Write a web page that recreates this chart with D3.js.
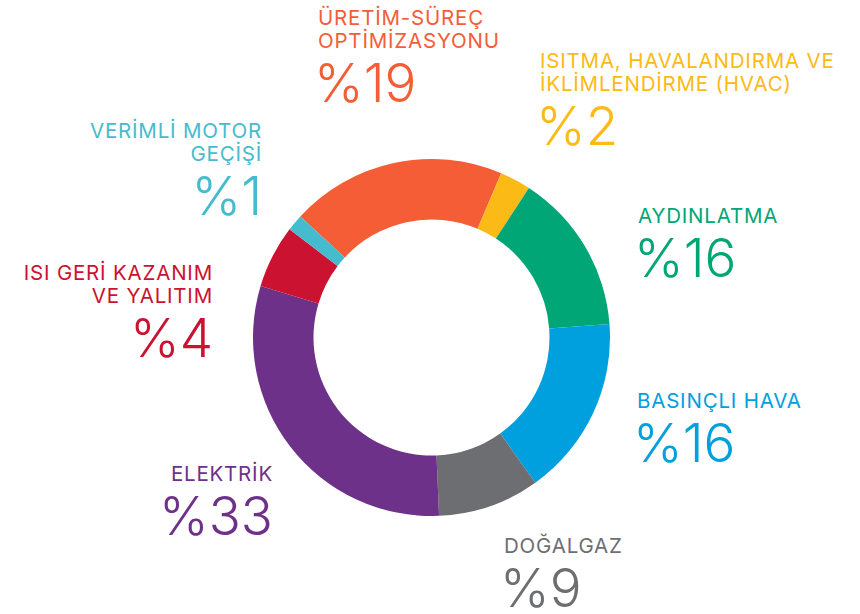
<!DOCTYPE html>
<html>
<head>
<meta charset="utf-8">
<script src="https://cdn.jsdelivr.net/npm/d3@7"></script>
<style>
  body { margin: 0; background: #fff; }
  svg text { font-family: Inter, "Noto Sans", sans-serif; }
</style>
</head>
<body>
<div class="chart"></div>
<script>
// categories clockwise, starting with the orange slice
let categories = ['ÜRETİM-SÜREÇ OPTİMİZASYONU', 'ISITMA, HAVALANDIRMA VE İKLİMLENDİRME (HVAC)', 'AYDINLATMA',
  'BASINÇLI HAVA', 'DOĞALGAZ', 'ELEKTRİK', 'ISI GERİ KAZANIM VE YALITIM', 'VERİMLİ MOTOR GEÇİŞİ']
// printed percentages
let percents = [19, 2, 16, 16, 9, 33, 4, 1]
// arc sizes as drawn in the picture
let shares = [19.5, 2.8, 14.6, 16.3, 9.2, 30.3, 5.7, 1.5]
let labelLines = [
  ['ÜRETİM-SÜREÇ', 'OPTİMİZASYONU'],
  ['ISITMA, HAVALANDIRMA VE', 'İKLİMLENDİRME (HVAC)'],
  ['AYDINLATMA'],
  ['BASINÇLI HAVA'],
  ['DOĞALGAZ'],
  ['ELEKTRİK'],
  ['ISI GERİ KAZANIM', 'VE YALITIM'],
  ['VERİMLİ MOTOR', 'GEÇİŞİ']
]
let colors = ['#f45d36', '#fbba16', '#00a676', '#009fdd', '#6d6e71', '#6e318a', '#cb1230', '#44bcce']

// label placement: x, baseline of first line, anchor
let labelPos = [
  {x: 318, y: 25, a: 'start'},
  {x: 540, y: 68, a: 'start'},
  {x: 638, y: 223, a: 'start'},
  {x: 637, y: 408, a: 'start'},
  {x: 504, y: 553, a: 'start'},
  {x: 273, y: 481, a: 'end'},
  {x: 213, y: 280, a: 'end'},
  {x: 262, y: 138, a: 'end'}
]

let width = 860, height = 614
let cx = 431.5, cy = 337.5, outerR = 178.5, innerR = 118

let svg = d3.select('.chart').append('svg')
  .attr('width', width)
  .attr('height', height)

let start = -47.3 * Math.PI / 180
let pie = d3.pie().sort(null).value(d => d)
  .startAngle(start).endAngle(start + 2 * Math.PI)
let arc = d3.arc().innerRadius(innerR).outerRadius(outerR)

let g = svg.append('g').attr('transform', 'translate(' + cx + ',' + cy + ')')
g.selectAll('path')
  .data(pie(shares))
  .join('path')
  .attr('d', arc)
  .attr('fill', (d, i) => colors[i])

// labels
let lineGap = 23
labelLines.forEach((lines, i) => {
  let p = labelPos[i]
  let t = svg.append('text')
    .attr('text-anchor', p.a)
    .attr('fill', colors[i])
    .style('font-size', '20.5px')
    .style('font-weight', 400)
    .style('letter-spacing', '0.8px')
  lines.forEach((l, j) => {
    t.append('tspan').attr('x', p.x).attr('y', p.y + j * lineGap).text(l)
  })
  svg.append('text')
    .attr('x', p.a == 'start' ? p.x - 4 : p.x)
    .attr('y', p.y + (lines.length - 1) * lineGap + 54)
    .attr('text-anchor', p.a)
    .attr('fill', colors[i])
    .style('font-size', '53px')
    .style('font-weight', 300)
    .text('%' + percents[i])
})
</script>
</body>
</html>
